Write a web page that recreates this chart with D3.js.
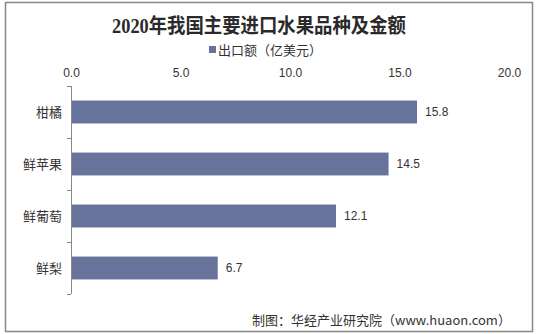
<!DOCTYPE html>
<html><head><meta charset="utf-8">
<script src="https://cdn.jsdelivr.net/npm/d3@7/dist/d3.min.js"></script>
<style>body{margin:0;background:#fff}svg{display:block}</style>
</head><body>
<script>
const categories = ["柑橘", "鲜苹果", "鲜葡萄", "鲜梨"];
const values = [15.8, 14.5, 12.1, 6.7];
const xTicks = [0, 5, 10, 15, 20];
const titleText = "2020年我国主要进口水果品种及金额";
const legendText = "出口额（亿美元）";
const footerText = "制图：华经产业研究院（www.huaon.com）";

const W = 544, H = 334;
const svg = d3.select("body").append("svg").attr("width", W).attr("height", H);
svg.append("rect").attr("x", 5.5).attr("y", 2.5).attr("width", 527).attr("height", 329)
  .attr("fill", "#fff").attr("stroke", "#888").attr("stroke-width", 1.5);

const x = d3.scaleLinear().domain([0, 20]).range([71, 509]);
const y = d3.scaleBand().domain(categories).range([86, 294]).paddingInner(0.56).paddingOuter(0.28);

const cjk = "'Noto Sans CJK SC', 'Liberation Sans', sans-serif";
svg.append("text").attr("x", 259).attr("y", 33).attr("text-anchor", "middle")
  .attr("font-family", "'Liberation Serif', 'Noto Sans CJK SC', serif").attr("font-weight", "bold")
  .attr("font-size", 20).attr("fill", "#2a2a2a").attr("textLength", 294).attr("lengthAdjust", "spacingAndGlyphs")
  .text(titleText);

// legend
svg.append("rect").attr("x", 209).attr("y", 46).attr("width", 7).attr("height", 7).attr("fill", "#67739a");
svg.append("text").attr("x", 218).attr("y", 55).attr("font-family", cjk).attr("font-size", 13)
  .attr("fill", "#333").attr("textLength", 104).attr("lengthAdjust", "spacingAndGlyphs").text(legendText);

// top axis labels
const xa = svg.append("g").attr("transform", "translate(0,77)")
  .call(d3.axisTop(x).tickValues(xTicks).tickFormat(d3.format(".1f")).tickSize(0).tickPadding(0));
xa.select(".domain").remove();
xa.selectAll("text").attr("font-family", "'Liberation Sans', Arial, sans-serif").attr("font-size", 12).attr("fill", "#333");

// bars
svg.append("g").selectAll("rect").data(values).join("rect")
  .attr("x", x(0)).attr("y", (d, i) => y(categories[i]))
  .attr("width", d => x(d) - x(0)).attr("height", y.bandwidth()).attr("fill", "#67739a");

// y axis
const yb = d3.scaleOrdinal().domain([0,1,2,3,4]).range([86,138,190,242,294]);
const ya = svg.append("g");
ya.append("line").attr("x1", 71.5).attr("x2", 71.5).attr("y1", 86).attr("y2", 294).attr("stroke", "#888").attr("stroke-width", 1);
ya.selectAll("line.t").data([0,1,2,3,4]).join("line").attr("class", "t")
  .attr("x1", 67).attr("x2", 71).attr("y1", d => yb(d) + 0.5).attr("y2", d => yb(d) + 0.5)
  .attr("stroke", "#888");
ya.selectAll("text").data(categories).join("text")
  .attr("x", 62).attr("y", d => y(d) + y.bandwidth() / 2).attr("dy", "0.35em")
  .attr("text-anchor", "end").attr("font-family", cjk).attr("font-size", 13).attr("fill", "#333")
  .text(d => d);

// value labels
svg.append("g").selectAll("text").data(values).join("text")
  .attr("x", d => x(d) + 8).attr("y", (d, i) => y(categories[i]) + y.bandwidth() / 2).attr("dy", "0.35em")
  .attr("font-family", "'Liberation Sans', Arial, sans-serif").attr("font-size", 12).attr("fill", "#333")
  .text(d => d3.format(".1f")(d));

// footer
svg.append("text").attr("x", 252).attr("y", 325).attr("font-family", cjk).attr("font-size", 13)
  .attr("fill", "#333").text(footerText);
</script>
</body></html>
